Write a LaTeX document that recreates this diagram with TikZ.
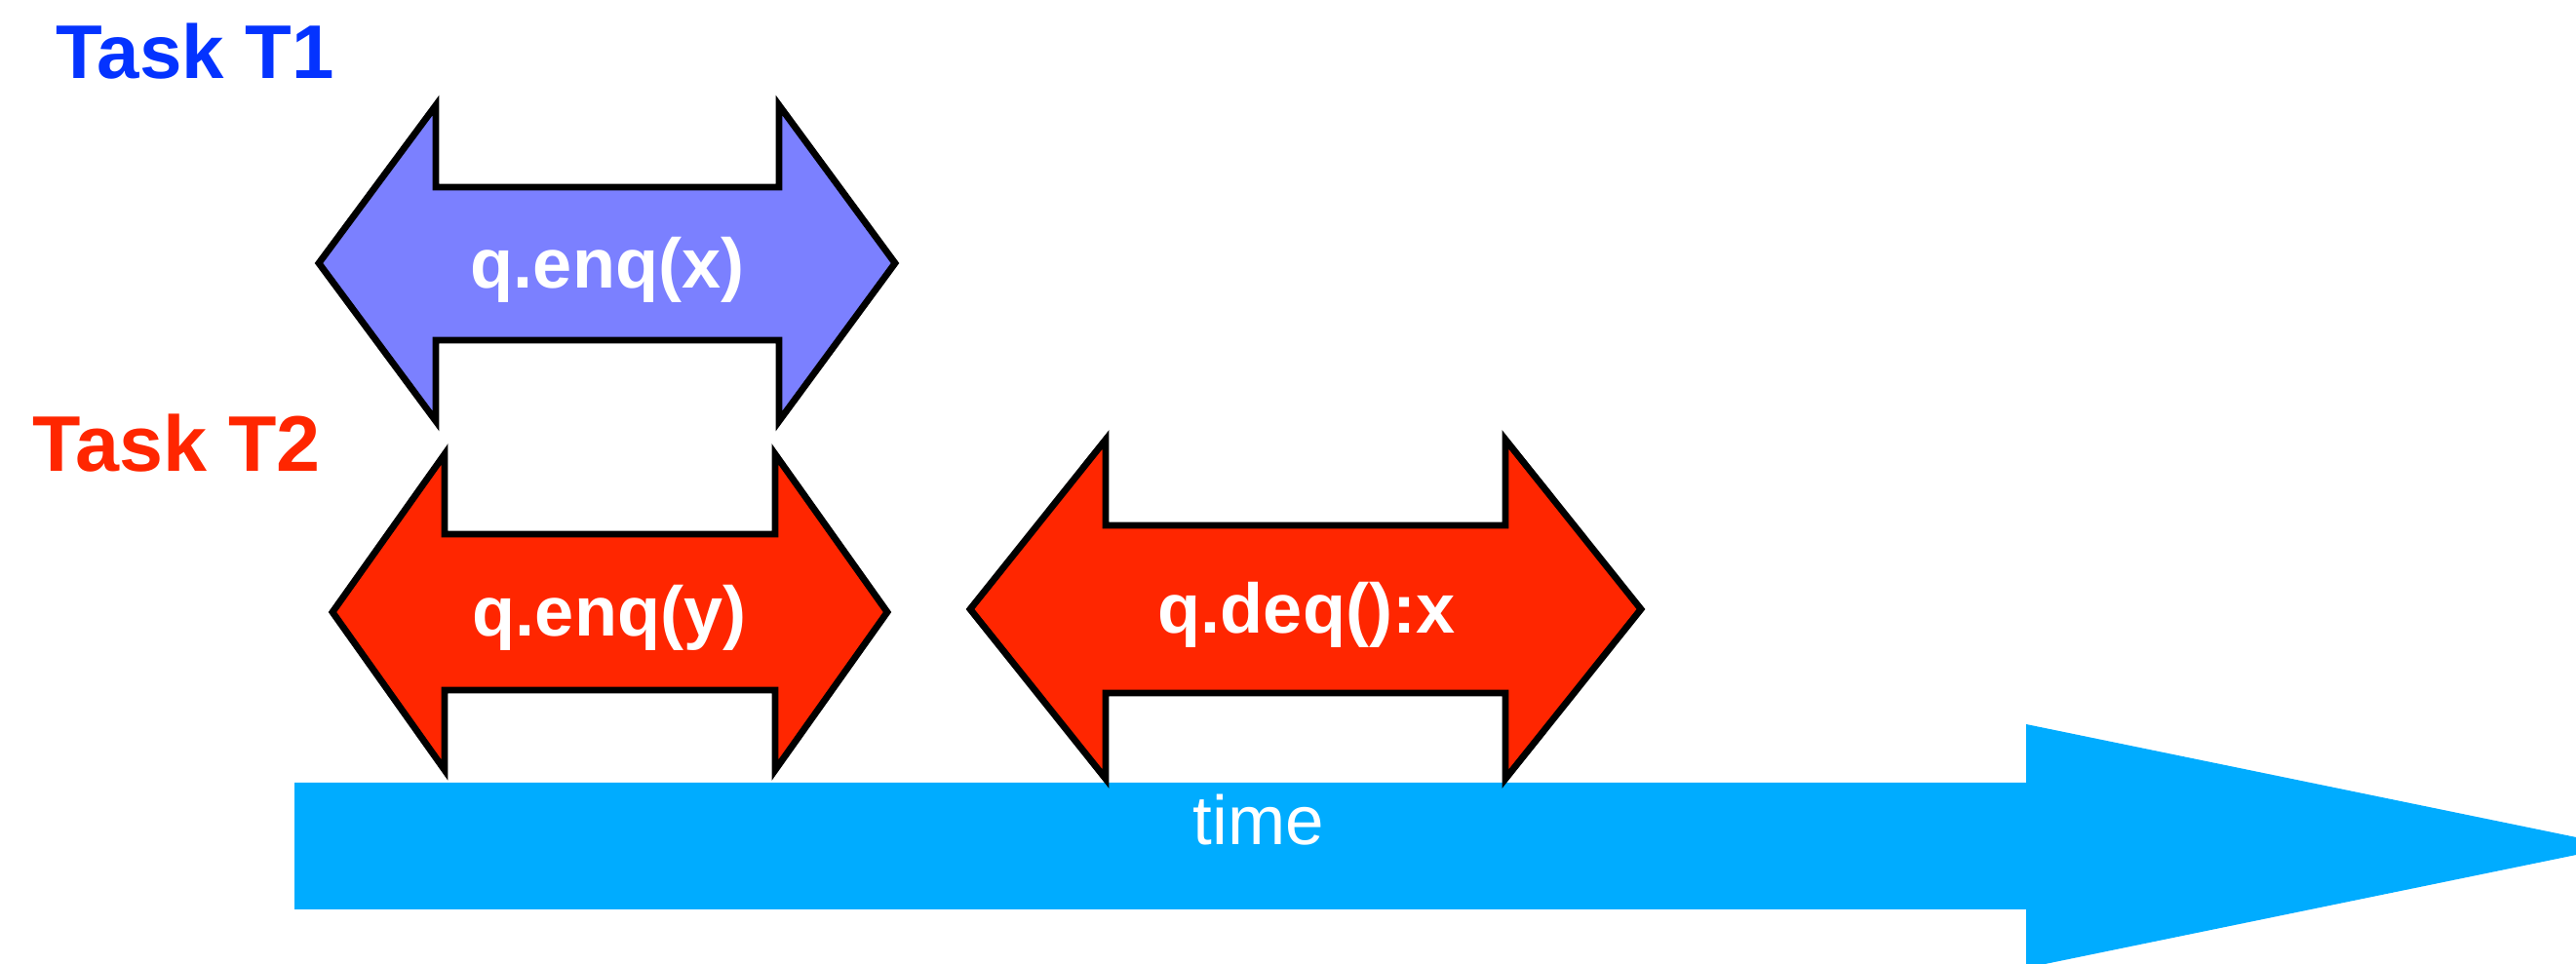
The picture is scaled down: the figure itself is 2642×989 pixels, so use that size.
\documentclass[tikz,border=0pt]{standalone}
\usepackage{fontspec}
\setmainfont{Liberation Sans}
\definecolor{taskblue}{RGB}{4,51,255}
\definecolor{taskred}{RGB}{255,38,0}
\definecolor{opblue}{RGB}{123,128,255}
\definecolor{timecyan}{RGB}{0,172,255}
\tikzset{
  opshape/.style={draw=black, line width=1.95pt, line join=miter, miter limit=20},
  optext/.style={text=white, font=\fontsize{20.5}{24}\selectfont\bfseries, anchor=base, inner sep=0pt},
  tasklabel/.style={font=\fontsize{23}{27}\selectfont\bfseries, anchor=base west, inner sep=0pt},
  timetext/.style={text=white, font=\fontsize{20.2}{24}\selectfont, anchor=base, inner sep=0pt}
}
\begin{document}
\begin{tikzpicture}[x=0.01cm, y=-0.01cm]
\useasboundingbox (0,0) rectangle (2642,989);
\clip (0,0) rectangle (2642,989);
% time arrow
\fill[timecyan] (302,803) -- (2078,803) -- (2078,743) -- (2686,868) -- (2078,993) -- (2078,933) -- (302,933) -- cycle;
\node[timetext] (time) at (1291,867) {time};
% T1 enq(x)
\filldraw[opshape, fill=opblue] (327,270) -- (447,108) -- (447,192) -- (799,192) -- (799,108) -- (918,270) -- (799,432) -- (799,349) -- (447,349) -- (447,432) -- cycle;
\node[optext] (enqx) at (623,296) {q.enq(x)};
% T2 enq(y)
\filldraw[opshape, fill=taskred] (341,628) -- (456,466) -- (456,548) -- (795,548) -- (795,466) -- (910,628) -- (795,790) -- (795,708) -- (456,708) -- (456,790) -- cycle;
\node[optext] (enqy) at (625,653) {q.enq(y)};
% T2 deq():x
\filldraw[opshape, fill=taskred] (995,625) -- (1134,451) -- (1134,539) -- (1544,539) -- (1544,451) -- (1683,625) -- (1544,799) -- (1544,711) -- (1134,711) -- (1134,799) -- cycle;
\node[optext] (deq) at (1340,650) {q.deq():x};
% labels
\node[tasklabel, text=taskblue, font=\fontsize{22.2}{27}\selectfont\bfseries] (t1) at (57,81) {Task T1};
\node[tasklabel, text=taskred] (t2) at (33,484) {Task T2};
\end{tikzpicture}
\end{document}
